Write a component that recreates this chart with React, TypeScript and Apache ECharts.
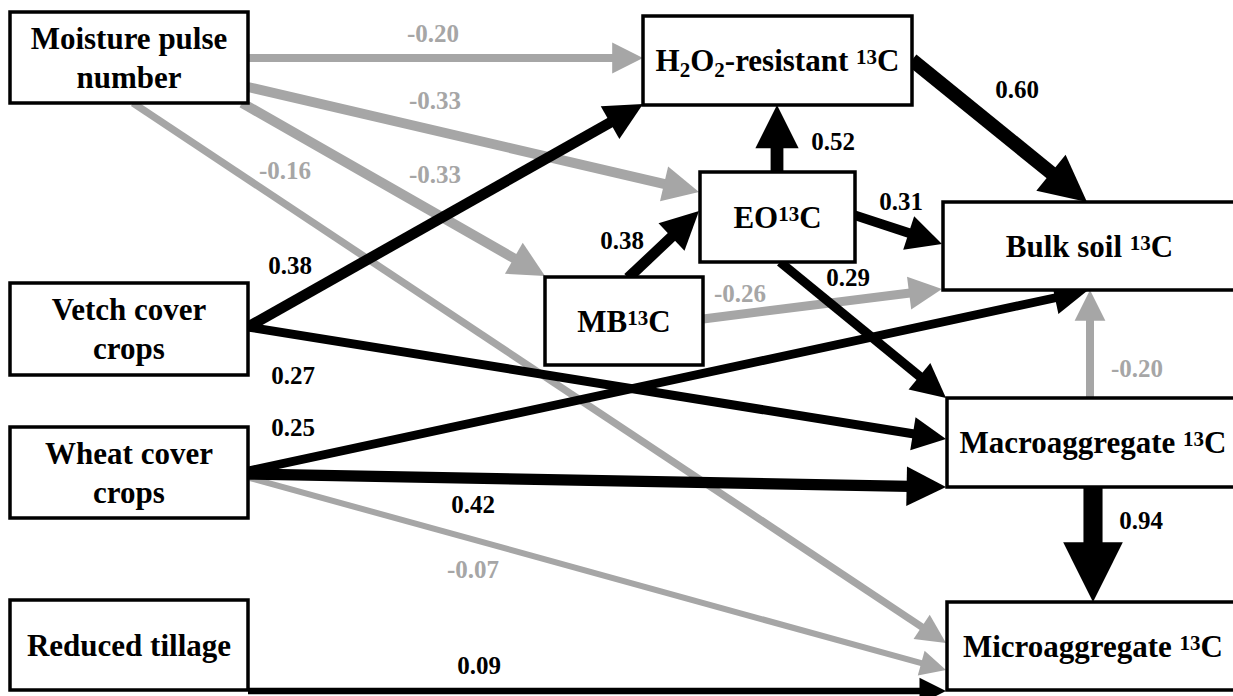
import React, { useEffect, useRef } from 'react';
import * as echarts from 'echarts';

// ---------- data ----------
const variables = [
  'Moisture pulse number',
  'Vetch cover crops',
  'Wheat cover crops',
  'Reduced tillage',
  'H2O2-resistant 13C',
  'EO13C',
  'MB13C',
  'Bulk soil 13C',
  'Macroaggregate 13C',
  'Microaggregate 13C',
];

const variableLabels = [
  'Moisture pulse\nnumber',
  'Vetch cover\ncrops',
  'Wheat cover\ncrops',
  'Reduced tillage',
  '{m|H}{b|2}{m|O}{b|2}{m|-resistant }{p|13}{m|C}',
  '{m|EO}{p|13}{m|C}',
  '{m|MB}{p|13}{m|C}',
  '{m|Bulk soil }{p|13}{m|C}',
  '{m|Macroaggregate }{p|13}{m|C}',
  '{m|Microaggregate }{p|13}{m|C}',
];

const pathFrom = [
  'Moisture pulse number', 'Moisture pulse number', 'Moisture pulse number', 'Moisture pulse number',
  'Vetch cover crops', 'Vetch cover crops',
  'Wheat cover crops', 'Wheat cover crops', 'Wheat cover crops',
  'Reduced tillage',
  'MB13C', 'MB13C',
  'EO13C', 'EO13C', 'EO13C',
  'H2O2-resistant 13C',
  'Macroaggregate 13C', 'Macroaggregate 13C',
];
const pathTo = [
  'H2O2-resistant 13C', 'EO13C', 'MB13C', 'Microaggregate 13C',
  'H2O2-resistant 13C', 'Macroaggregate 13C',
  'Bulk soil 13C', 'Macroaggregate 13C', 'Microaggregate 13C',
  'Microaggregate 13C',
  'EO13C', 'Bulk soil 13C',
  'H2O2-resistant 13C', 'Bulk soil 13C', 'Macroaggregate 13C',
  'Bulk soil 13C',
  'Bulk soil 13C', 'Microaggregate 13C',
];
const pathCoefficients = [
  -0.20, -0.33, -0.33, -0.16,
  0.38, 0.27,
  0.25, 0.42, -0.07,
  0.09,
  0.38, -0.26,
  0.52, 0.31, 0.29,
  0.60,
  -0.20, 0.94,
];

// ---------- layout (diagram units = pixels of a 1233 x 696 canvas) ----------
const boxLayout = [
  [10, 12, 248, 103],
  [10, 283, 248, 375],
  [10, 427, 248, 518],
  [10, 600, 248, 690],
  [643, 16, 912, 105],
  [700, 172, 855, 262],
  [545, 277, 703, 365],
  [943, 202, 1236, 290],
  [947, 398, 1239, 487],
  [947, 602, 1239, 690],
];

const pathRoutes = [
  [248, 58, 643, 58],
  [248, 87, 699, 192],
  [242, 103, 545, 276],
  [133, 103, 946, 643],
  [248, 327, 643, 104],
  [248, 327, 946, 439],
  [248, 471, 1087, 291],
  [248, 474, 946, 487],
  [250, 478, 946, 670],
  [248, 691, 946, 691],
  [628, 278, 699, 211],
  [703, 319, 942, 289],
  [777, 173, 777, 105],
  [854, 215, 942, 244],
  [780, 262, 946, 398],
  [912, 60, 1087, 202],
  [1090, 398, 1090, 290],
  [1093, 487, 1093, 602],
];

const coefficientLabelAt = [
  [433, 33],
  [435, 100],
  [435, 174],
  [285, 170],
  [290, 265],
  [293, 375],
  [293, 427],
  [473, 504],
  [473, 569],
  [479, 665],
  [622, 240],
  [740, 293],
  [833, 141],
  [901, 201],
  [848, 277],
  [1017, 89],
  [1137, 368],
  [1141, 520],
];

const FONT = '"Liberation Serif", "Times New Roman", serif';
const BLACK = '#000000';
const GREY = '#a6a6a6';

export default function App() {
  const ref = useRef<HTMLDivElement>(null);

  useEffect(() => {
    if (!ref.current) return;
    const chart = echarts.init(ref.current, undefined, { renderer: 'svg' });

    const order = pathCoefficients
      .map((c, i) => ({ c, i }))
      .sort((a, b) => (a.c < 0 ? 0 : 1) - (b.c < 0 ? 0 : 1))
      .map((d) => d.i);

    const renderPath = (params: any, api: any) => {
      const i = api.value(0);
      const [x0, y0, x1, y1] = pathRoutes[i];
      const p0 = api.coord([x0, y0]);
      const p1 = api.coord([x1, y1]);
      const c = pathCoefficients[i];
      const color = c < 0 ? GREY : BLACK;
      const w = 5 + 15 * Math.abs(c);
      const hw = 10 + 2.6 * w;
      const hl = hw;
      const dx = p1[0] - p0[0];
      const dy = p1[1] - p0[1];
      const len = Math.hypot(dx, dy);
      const ux = dx / len;
      const uy = dy / len;
      const nx = -uy;
      const ny = ux;
      const bx = p1[0] - ux * hl;
      const by = p1[1] - uy * hl;
      return {
        type: 'group',
        children: [
          {
            type: 'line',
            shape: { x1: p0[0], y1: p0[1], x2: bx + ux * 3, y2: by + uy * 3 },
            style: { stroke: color, lineWidth: w, lineCap: 'butt' },
          },
          {
            type: 'polygon',
            shape: {
              points: [
                [p1[0], p1[1]],
                [bx + (nx * hw) / 2, by + (ny * hw) / 2],
                [bx - (nx * hw) / 2, by - (ny * hw) / 2],
              ],
            },
            style: { fill: color },
          },
        ],
      };
    };

    const renderBox = (params: any, api: any) => {
      const i = api.value(0);
      const [x0, y0, x1, y1] = boxLayout[i];
      const a = api.coord([x0, y0]);
      const b = api.coord([x1, y1]);
      return {
        type: 'group',
        children: [
          {
            type: 'rect',
            shape: { x: a[0], y: a[1], width: b[0] - a[0], height: b[1] - a[1] },
            style: { fill: '#ffffff', stroke: BLACK, lineWidth: 3.5 },
          },
          {
            type: 'text',
            style: {
              text: variableLabels[i],
              x: (a[0] + b[0]) / 2,
              y: (a[1] + b[1]) / 2,
              align: 'center',
              verticalAlign: 'middle',
              fontFamily: FONT,
              fontWeight: 'bold',
              fontSize: 31,
              lineHeight: 39,
              fill: BLACK,
              rich: {
                m: { fontFamily: FONT, fontWeight: 'bold', fontSize: 31, fill: BLACK },
                p: { fontFamily: FONT, fontWeight: 'bold', fontSize: 21, fill: BLACK, padding: [0, 0, 7, 0] },
                b: { fontFamily: FONT, fontWeight: 'bold', fontSize: 21, fill: BLACK, padding: [19, 0, 0, 0] },
              },
            },
          },
        ],
      };
    };

    const renderCoef = (params: any, api: any) => {
      const i = api.value(0);
      const p = api.coord(coefficientLabelAt[i]);
      const c = pathCoefficients[i];
      return {
        type: 'text',
        style: {
          text: c.toFixed(2),
          x: p[0],
          y: p[1],
          align: 'center',
          verticalAlign: 'middle',
          fontFamily: FONT,
          fontWeight: 'bold',
          fontSize: 25,
          fill: c < 0 ? GREY : BLACK,
        },
      };
    };

    chart.setOption({
      animation: false,
      backgroundColor: '#ffffff',
      grid: { left: 0, right: 0, top: 0, bottom: 0 },
      xAxis: { type: 'value', min: 0, max: 1233, show: false },
      yAxis: { type: 'value', min: 0, max: 696, inverse: true, show: false },
      series: [
        {
          type: 'custom',
          name: 'paths',
          coordinateSystem: 'cartesian2d',
          renderItem: renderPath,
          data: order.map((i) => [i, 0]),
          z: 1,
          silent: true,
        },
        {
          type: 'custom',
          name: 'variables',
          coordinateSystem: 'cartesian2d',
          renderItem: renderBox,
          data: variables.map((_, i) => [i, 0]),
          z: 2,
          silent: true,
        },
        {
          type: 'custom',
          name: 'coefficients',
          coordinateSystem: 'cartesian2d',
          renderItem: renderCoef,
          data: pathCoefficients.map((_, i) => [i, 0]),
          z: 3,
          silent: true,
        },
      ],
    });

    return () => chart.dispose();
  }, []);

  return (
    <div
      ref={ref}
      style={{ position: 'fixed', left: 0, top: 0, width: 1233, height: 696, background: '#fff' }}
    />
  );
}
